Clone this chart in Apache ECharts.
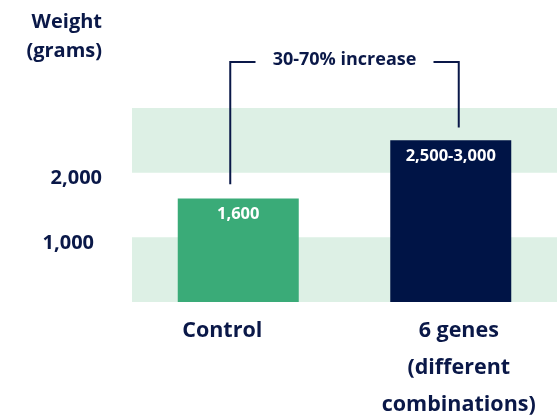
<!DOCTYPE html>
<html>
<head>
<meta charset="utf-8">
<script src="https://cdn.jsdelivr.net/npm/echarts@6/dist/echarts.min.js"></script>
<style>
  html, body { margin: 0; padding: 0; background: #ffffff; }
  #chart { width: 559px; height: 416px; }
</style>
</head>
<body>
<div id="chart"></div>
<script>
// Groups and their average bird weight (grams)
const categories = ['Control', '6 genes\n(different\ncombinations)'];
const weights = [1600, 2500];
const barLabels = ['1,600', '2,500-3,000'];
const barColors = ['#3aab78', '#001446'];

// Y-axis ticks that carry a label
const yTicks = [1000, 2000];
const yTickLabels = ['1,000', '2,000'];

// Bracket joining the two groups: heights where each leg ends, and the top bar
const bracketLegs = [1820, 2700];
const bracketTop = 3710;
const bracketText = '30-70% increase';

const navy = '#0a1848';
const font = 'Open Sans';

const chart = echarts.init(document.getElementById('chart'), null, { renderer: 'canvas' });

chart.setOption({
  animation: false,
  backgroundColor: '#ffffff',
  grid: { left: 132, right: 2, top: 108, bottom: 114 },
  graphic: [{
    type: 'text',
    right: 559 - 102,
    top: 8,
    style: {
      text: 'Weight\n(grams)',
      fill: navy,
      font: 'bold 20px "Open Sans"',
      textAlign: 'right',
      lineHeight: 29
    }
  }],
  xAxis: {
    type: 'category',
    data: categories,
    axisLine: { show: false },
    axisTick: { show: false },
    axisLabel: {
      margin: 10,
      interval: 0,
      formatter: function (v, i) { return i === 0 ? '{a|' + v + '}' : v.split('\n').map(s => '{b|' + s + '}').join('\n'); },
      rich: {
        a: { color: navy, fontFamily: font, fontWeight: 'bold', fontSize: 21.5, lineHeight: 37, padding: [0, 32, 0, 0] },
        b: { color: navy, fontFamily: font, fontWeight: 'bold', fontSize: 21.5, lineHeight: 37, padding: [0, 0, 0, 16] }
      }
    }
  },
  yAxis: {
    type: 'value',
    min: 0,
    max: 3000,
    interval: 1000,
    axisLine: { show: false },
    axisTick: { show: false },
    splitLine: { show: false },
    splitArea: { show: true, areaStyle: { color: ['#ddf0e5', 'rgba(255,255,255,0)'] } },
    axisLabel: {
      margin: 30,
      formatter: function (v) {
        const i = yTicks.indexOf(v);
        if (i < 0) return '';
        return (i === 0 ? '{b|' : '{a|') + yTickLabels[i] + '}';
      },
      rich: {
        a: { color: navy, fontFamily: font, fontWeight: 'bold', fontSize: 20, padding: [12, 0, 0, 0] },
        b: { color: navy, fontFamily: font, fontWeight: 'bold', fontSize: 20, padding: [12, 8, 0, 0] }
      }
    }
  },
  series: [
    {
      type: 'bar',
      barWidth: 121,
      data: weights.map((w, i) => ({ value: w, itemStyle: { color: barColors[i] } })),
      label: {
        show: true,
        position: 'insideTop',
        distance: 7,
        color: '#ffffff',
        fontFamily: font,
        fontWeight: 'bold',
        fontSize: 16.5,
        formatter: p => barLabels[p.dataIndex]
      }
    },
    {
      type: 'custom',
      clip: false,
      silent: true,
      data: [0],
      renderItem: function (params, api) {
        const l0 = api.coord([0, bracketLegs[0]]);
        const r0 = api.coord([1, bracketLegs[1]]);
        const lt = api.coord([0, bracketTop]);
        const xL = l0[0] - 8, xR = r0[0] + 8, yT = lt[1];
        const mid = (xL + xR) / 2;
        const gap = 89;
        const ls = { stroke: navy, lineWidth: 2, fill: null };
        return {
          type: 'group',
          children: [
            { type: 'polyline', shape: { points: [[xL, l0[1]], [xL, yT], [mid - gap, yT]] }, style: ls },
            { type: 'polyline', shape: { points: [[mid + gap, yT], [xR, yT], [xR, r0[1]]] }, style: ls },
            { type: 'text', style: { text: bracketText, x: mid, y: yT - 2, textAlign: 'center', textVerticalAlign: 'middle', fill: navy, font: 'bold 18px "Open Sans"' } }
          ]
        };
      }
    }
  ]
});
</script>
</body>
</html>
